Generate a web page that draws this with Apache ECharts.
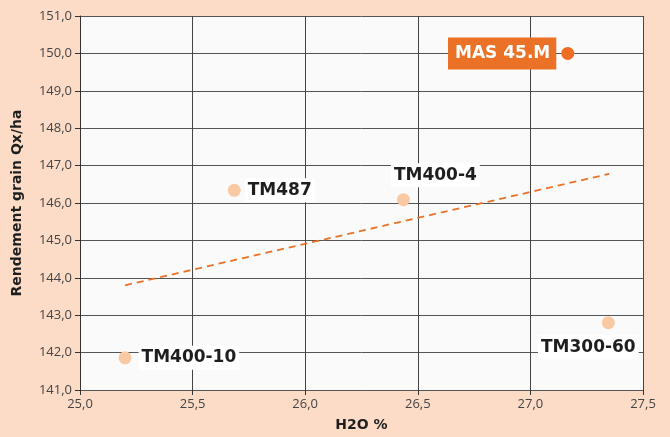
<!DOCTYPE html>
<html>
<head>
<meta charset="utf-8">
<script src="https://cdn.jsdelivr.net/npm/echarts@6/dist/echarts.min.js"></script>
<style>
  html, body { margin: 0; padding: 0; background: #fcdcc6; }
  #chart { width: 670px; height: 437px; }
</style>
</head>
<body>
<div id="chart"></div>
<script>
const names = ['TM400-10', 'TM487', 'TM400-4', 'MAS 45.M', 'TM300-60']
const h2o = [25.2, 25.685, 26.436, 27.166, 27.346]
const rendement = [141.86, 146.34, 146.09, 150.0, 142.8]
// tendance
const trendX = [25.2, 27.35]
const trendY = [143.8, 146.78]

const fmt = v => v.toFixed(1).replace('.', ',')

const labelBase = {
  show: true,
  color: '#1e1e1e',
  fontWeight: 'bold',
  fontSize: 17,
  fontFamily: 'DejaVu Sans',
  backgroundColor: '#fff',
  padding: [4, 3, 3, 3]
}
const labelCfg = {
  'TM400-10': { position: 'right', distance: 7 },
  'TM487': { position: 'right', distance: 4 },
  'TM400-4': { position: 'top', distance: 6, offset: [32, 0] },
  'MAS 45.M': { position: 'left', distance: 5, color: '#fff', backgroundColor: '#ea7125', padding: [8, 6, 7, 7] },
  'TM300-60': { position: 'bottom', distance: 6, offset: [-20, 0] }
}

const points = names.map((n, i) => ({
  value: [h2o[i], rendement[i]],
  name: n,
  itemStyle: { color: n === 'MAS 45.M' ? '#ee6d22' : '#f9c9a4', opacity: 1 },
  label: Object.assign({}, labelBase, labelCfg[n], { formatter: n })
}))

const tickFont = { color: '#444', fontSize: 13, fontFamily: 'Open Sans' }
const titleFont = { fontWeight: 'bold', fontSize: 14, color: '#1e1e1e', fontFamily: 'DejaVu Sans' }

const chart = echarts.init(document.getElementById('chart'))
chart.setOption({
  backgroundColor: '#fcdcc6',
  animation: false,
  grid: { left: 80, right: 27, top: 16, bottom: 47, show: true, backgroundColor: '#fafafa', borderWidth: 0 },
  xAxis: {
    type: 'value', min: 25, max: 27.5, interval: 0.5,
    name: 'H2O %', nameLocation: 'middle', nameGap: 28,
    nameTextStyle: titleFont,
    axisLine: { show: true, lineStyle: { color: '#555', width: 1 } },
    axisTick: { show: true, length: 5, lineStyle: { color: '#333' } },
    axisLabel: Object.assign({ formatter: fmt, margin: 8 }, tickFont),
    splitLine: { show: true, lineStyle: { color: '#444', width: 1 } }
  },
  yAxis: {
    type: 'value', min: 141, max: 151, interval: 1,
    name: 'Rendement grain Qx/ha', nameLocation: 'middle', nameGap: 56,
    nameTextStyle: titleFont,
    axisLine: { show: true, lineStyle: { color: '#333', width: 1 } },
    axisTick: { show: true, length: 5, lineStyle: { color: '#333' } },
    axisLabel: Object.assign({ formatter: fmt, margin: 8 }, tickFont),
    splitLine: { show: true, lineStyle: { color: '#555', width: 1 } }
  },
  series: [
    {
      type: 'line',
      data: trendX.map((x, i) => [x, trendY[i]]),
      symbol: 'none',
      lineStyle: { color: '#ea7125', type: [7, 5], width: 1.8 },
      z: 2
    },
    {
      type: 'scatter',
      symbolSize: 13,
      data: points,
      z: 3
    }
  ]
})
</script>
</body>
</html>
